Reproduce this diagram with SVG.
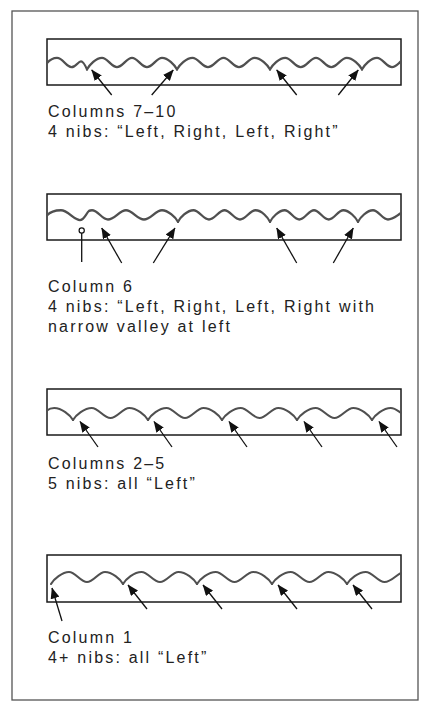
<svg xmlns="http://www.w3.org/2000/svg" width="430" height="712" viewBox="0 0 430 712">
<defs>
<marker id="ah" viewBox="0 0 11 9" refX="10.5" refY="4.5" markerWidth="11" markerHeight="9" markerUnits="userSpaceOnUse" orient="auto">
<path d="M0,0 L11,4.5 L0,9 z" fill="#111"/>
</marker>
</defs>
<style>
.frame{fill:none;stroke:#555;stroke-width:1.3}
.box{fill:#fff;stroke:#1a1a1a;stroke-width:1.5}
.wave{fill:none;stroke:#505050;stroke-width:2.1;stroke-linecap:round;stroke-linejoin:round}
.arr{stroke:#111;stroke-width:1.3;fill:none;marker-end:url(#ah)}
.lbl{font-family:"Liberation Sans","DejaVu Sans",sans-serif;font-size:16px;letter-spacing:2.2px;fill:#222}
</style>
<rect width="430" height="712" fill="#fff"/>
<rect class="frame" x="12" y="11" width="406" height="689"/>

<g id="strip-columns-7-10">
<rect class="box" x="47" y="39" width="354" height="46"/>
<g transform="translate(0,62.5) scale(1,1.15) translate(0,-62.5)">
<path class="wave" d="M47,63 C50,60 53,58.5 57,58.5 C63,58.5 66,66.5 71.5,66.5 C76,66.5 78,61.5 81,61.5 C83.5,61.5 85.5,65.5 87,68.5"/>
<path class="wave" d="M87,68.5 C89.3,64.5 96,58.5 102,58.5 C107.5,58.5 111.5,66.5 117,66.5 C122.5,66.5 126.5,58.5 132,58.5 C137.5,58.5 141.5,66.5 147,66.5 C152.5,66.5 156.5,58.5 162,58.5 C168,58.5 174.7,64.5 177,68.5"/>
<path class="wave" d="M177,68.5 C179.3,64.5 186.3,58.5 192.5,58.5 C198.1,58.5 202.4,66.5 208,66.5 C213.6,66.5 217.9,58.5 223.5,58.5 C229.1,58.5 233.4,66.5 239,66.5 C244.6,66.5 248.9,58.5 254.5,58.5 C260.7,58.5 267.7,64.5 270,68.5"/>
<path class="wave" d="M270,68.5 C272.3,64.5 279.2,58.5 285.3,58.5 C290.9,58.5 295.1,66.5 300.7,66.5 C306.3,66.5 310.4,58.5 316,58.5 C321.6,58.5 325.7,66.5 331.3,66.5 C336.9,66.5 341.1,58.5 346.7,58.5 C352.8,58.5 359.7,64.5 362,68.5"/>
<path class="wave" d="M362,68.5 C364.3,64.5 370.9,58.5 377,58.5 C382.5,58.5 386.5,66.5 392,66.5 C396,66.5 398.5,63 401,61.5"/>
</g>
<text class="lbl" x="48" y="117">Columns 7–10</text>
<text class="lbl" x="48" y="137">4 nibs: “Left, Right, Left, Right”</text>
</g>

<g id="strip-column-6">
<rect class="box" x="47" y="194" width="354" height="46"/>
<g transform="translate(0,215.5) scale(1,1.15) translate(0,-215.5)">
<path class="wave" d="M47,215.5 C50,212.5 55,211 61,211 C68,211 74,219.5 80,219.5 C84,219.5 86,214 89,211.5 C90,211 91,211 92,211 C98,211 102,219 108,219 C114.5,219 119.5,211 126,211 C132.5,211 137.5,219 144,219 C150.5,219 155.5,211 162,211 C168,211 175.5,217 178,221"/>
<path class="wave" d="M178,221 C180.3,217 187.3,211 193.5,211 C199.1,211 203.4,219 209,219 C214.6,219 218.9,211 224.5,211 C230.1,211 234.4,219 240,219 C245.6,219 249.9,211 255.5,211 C261.7,211 267.7,217 270,221"/>
<path class="wave" d="M270,221 C272.3,217 278.8,211 284.7,211 C290,211 294,219 299.3,219 C304.6,219 308.7,211 314,211 C319.3,211 323.4,219 328.7,219 C334,219 338,211 343.3,211 C349.2,211 355.7,217 358,221"/>
<path class="wave" d="M358,221 C360.3,217 367,211 373,211 C378.5,211 382.5,219 388,219 C393,219 397,215.5 401,213.5"/>
</g>
<line x1="81.7" y1="233" x2="81.7" y2="262" stroke="#111" stroke-width="1.3"/>
<circle cx="81.7" cy="230.5" r="2.6" fill="#fff" stroke="#111" stroke-width="1.2"/>
<text class="lbl" x="48" y="292">Column 6</text>
<text class="lbl" x="48" y="312">4 nibs: “Left, Right, Left, Right with</text>
<text class="lbl" x="48" y="332">narrow valley at left</text>
</g>

<g id="strip-columns-2-5">
<rect class="box" x="47" y="389" width="354" height="46"/>
<path class="wave" d="M47,410.5 C49,408.8 51,408 54.25,408 C61.5,408 70.2,415 73,420"/>
<path class="wave" d="M73,420 C75.8,415 84.5,408 91.75,408 C98.6,408 103.6,418 110.5,418 C117.4,418 122.4,408 129.25,408 C136.5,408 145.2,415 148,420"/>
<path class="wave" d="M148,420 C150.8,415 159.1,408 166.5,408 C173.2,408 178.3,418 185,418 C191.7,418 196.8,408 203.5,408 C210.9,408 219.2,415 222,420"/>
<path class="wave" d="M222,420 C224.8,415 233.5,408 240.75,408 C247.6,408 252.7,418 259.5,418 C266.3,418 271.4,408 278.25,408 C285.5,408 294.2,415 297,420"/>
<path class="wave" d="M297,420 C299.8,415 308.5,408 315.75,408 C322.6,408 327.7,418 334.5,418 C341.3,418 346.4,408 353.25,408 C360.5,408 369.2,415 372,420"/>
<path class="wave" d="M372,420 C374.8,415 383.5,408 390.75,408 C395,408 398,411 401,413"/>
<text class="lbl" x="48" y="469">Columns 2–5</text>
<text class="lbl" x="48" y="489">5 nibs: all “Left”</text>
</g>

<g id="strip-column-1">
<rect class="box" x="47" y="555" width="354" height="47"/>
<path class="wave" d="M51,584 C53.7,579 62.5,572 69,572 C75.6,572 80.4,582 87,582 C93.6,582 98.4,572 105,572 C112,572 120.3,579 123,584"/>
<path class="wave" d="M123,584 C125.8,579 134.1,572 141.5,572 C148.2,572 153.3,582 160,582 C166.7,582 171.8,572 178.5,572 C185.9,572 194.2,579 197,584"/>
<path class="wave" d="M197,584 C199.8,579 208.5,572 215.75,572 C222.6,572 227.7,582 234.5,582 C241.3,582 246.4,572 253.25,572 C260.5,572 269.2,579 272,584"/>
<path class="wave" d="M272,584 C274.8,579 283.5,572 290.75,572 C297.6,572 302.7,582 309.5,582 C316.3,582 321.4,572 328.25,572 C335.5,572 344.2,579 347,584"/>
<path class="wave" d="M347,584 C349.8,579 358.5,572 365.75,572 C372.6,572 377.7,582 384.5,582 C391.3,582 396,575 401,573"/>
<text class="lbl" x="48" y="643">Column 1</text>
<text class="lbl" x="48" y="663">4+ nibs: all “Left”</text>
</g>

<g id="connectors">
<line class="arr" x1="111.7" y1="95" x2="91.7" y2="70"/>
<line class="arr" x1="151.7" y1="95" x2="173.3" y2="70"/>
<line class="arr" x1="296.7" y1="95" x2="276.7" y2="70"/>
<line class="arr" x1="338.3" y1="95" x2="358.3" y2="70"/>

<line class="arr" x1="121.7" y1="263" x2="101.7" y2="228"/>
<line class="arr" x1="153.3" y1="263" x2="175" y2="228"/>
<line class="arr" x1="296.7" y1="263" x2="276.7" y2="228"/>
<line class="arr" x1="333.3" y1="263" x2="353.3" y2="228"/>

<line class="arr" x1="98" y1="447" x2="80" y2="421.5"/>
<line class="arr" x1="172" y1="447" x2="154" y2="421.5"/>
<line class="arr" x1="247" y1="447" x2="229" y2="421.5"/>
<line class="arr" x1="322" y1="447" x2="304" y2="421.5"/>
<line class="arr" x1="397" y1="447" x2="379" y2="421.5"/>

<line class="arr" x1="62" y1="621" x2="52" y2="588"/>
<line class="arr" x1="147" y1="609" x2="128" y2="585"/>
<line class="arr" x1="222" y1="609" x2="203" y2="585"/>
<line class="arr" x1="297" y1="609" x2="278" y2="585"/>
<line class="arr" x1="372" y1="609" x2="353" y2="585"/>
</g>
</svg>
